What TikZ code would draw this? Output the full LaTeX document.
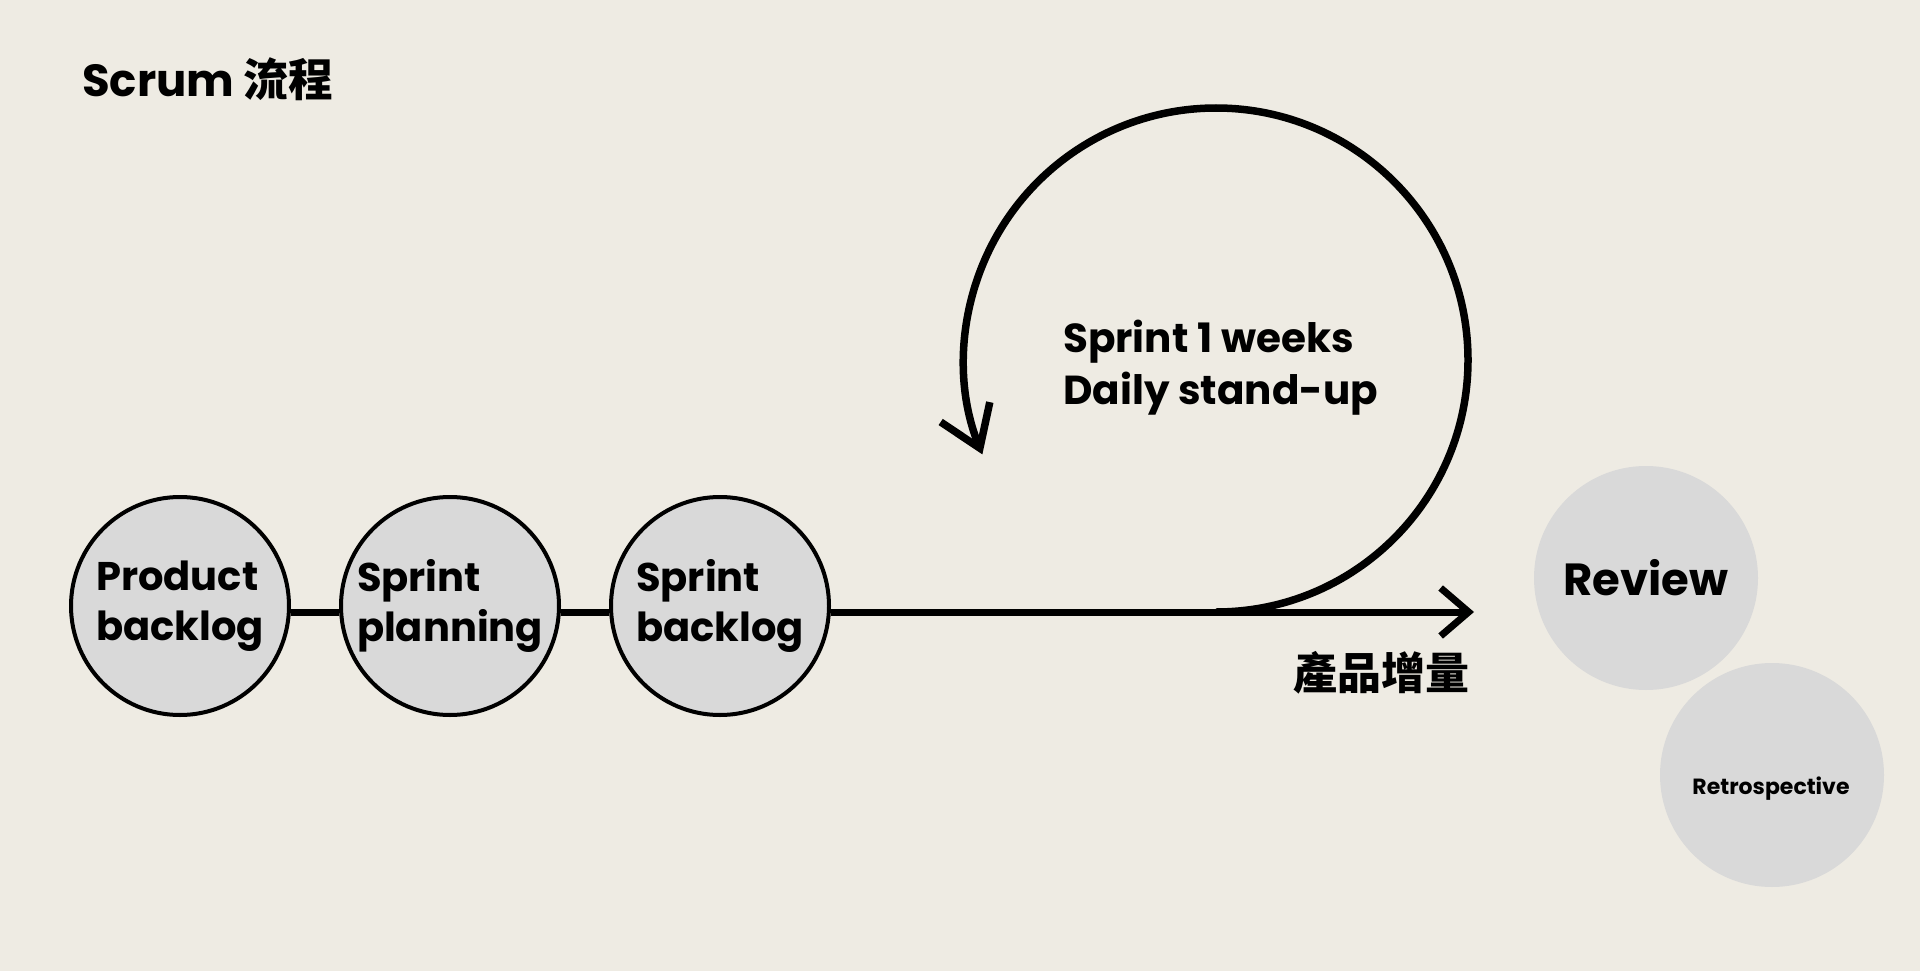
\documentclass[tikz,border=0pt]{standalone}
\usepackage{fontspec}
\usetikzlibrary{arrows.meta}
\newfontfamily\pop{Poppins}
\newfontfamily\cjk{Noto Sans CJK TC}
\definecolor{bg}{RGB}{238,235,227}
\definecolor{discgray}{RGB}{217,217,217}
\begin{document}
\begin{tikzpicture}[x=1pt,y=-1pt,
  stage/.style={circle,draw=black,line width=4pt,fill=discgray,minimum size=218pt,inner sep=0pt,align=left,
    font=\pop\bfseries\fontsize{40}{49.5}\selectfont},
  disc/.style={circle,fill=discgray,minimum size=224pt,inner sep=0pt},
  flow/.style={line width=7pt},
  loopline/.style={line width=7.5pt},
]
\fill[bg] (0,0) rectangle (1920,971);
\useasboundingbox (0,0) rectangle (1920,971);

\node[anchor=base west,inner sep=0pt,font=\pop\bfseries\fontsize{45}{45}\selectfont] (title) at (82,97) {Scrum {\cjk\bfseries 流程}};

\node[stage] (pb) at (180,606) {Product\\backlog};
\node[stage] (sp) at (450,606) {Sprint\\planning};
\node[stage] (sb) at (720,606) {Sprint\\backlog};

\coordinate (tip) at (1474,612);
\coordinate (loopstart) at (1216,612);

\draw[flow] ([yshift=-6pt]pb.east) -- ([yshift=-6pt]sp.west);
\draw[flow] ([yshift=-6pt]sp.east) -- ([yshift=-6pt]sb.west);
\draw[flow,-{Straight Barb[length=28pt,width=48pt]}] ([yshift=-6pt]sb.east) -- (tip);
\draw[loopline,-{Straight Barb[length=39pt,width=53pt]}] (loopstart) arc[start angle=90,end angle=-202,radius=252];

\node[anchor=base west,align=left,inner sep=0pt,font=\pop\bfseries\fontsize{40.5}{52}\selectfont] (sprint) at (1063,404) {Sprint 1 weeks\\Daily stand-up};

\node[anchor=east,inner sep=0pt,font=\cjk\bfseries\fontsize{44}{44}\selectfont] (incr) at (1470,673) {產品增量};

\node[disc,font=\pop\bfseries\fontsize{45}{45}\selectfont] (rev) at (1646,578) {Review};
\node[disc] (retro) at (1772,775) {};
\node[inner sep=0pt,font=\pop\bfseries\fontsize{22}{22}\selectfont] (retrotext) at (1771,789) {Retrospective};
\end{tikzpicture}
\end{document}
